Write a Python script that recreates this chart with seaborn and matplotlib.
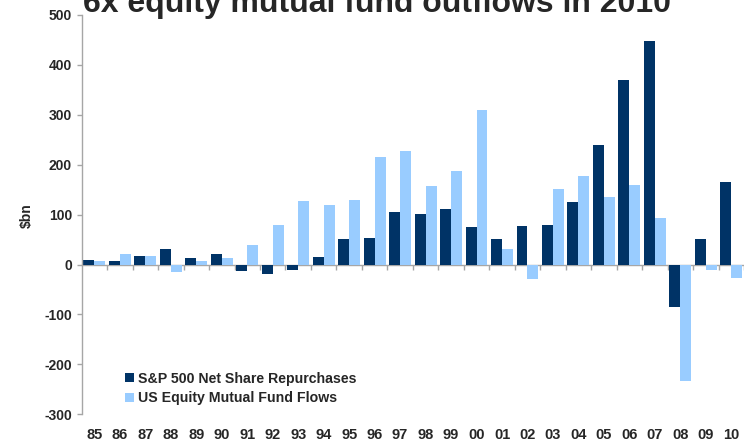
import matplotlib
matplotlib.use("Agg")
import matplotlib.pyplot as plt
from matplotlib.patches import Patch
import numpy as np
import pandas as pd
import seaborn as sns

# Years (two-digit labels), 1985-2010
years = ["85", "86", "87", "88", "89", "90", "91", "92", "93", "94", "95", "96", "97",
         "98", "99", "00", "01", "02", "03", "04", "05", "06", "07", "08", "09", "10"]

# $bn per year
buybacks = [9, 7, 17, 31, 13, 21, -13, -19, -11, 15, 51, 53, 105, 101, 111, 75,
            51, 77, 79, 125, 239, 369, 448, -85, 51, 165]
fund_flows = [7, 21, 17, -15, 7, 13, 39, 79, 127, 119, 129, 215, 227, 157, 187, 309,
              31, -29, 151, 177, 135, 159, 93, -234, -11, -27]

series_names = ["S&P 500 Net Share Repurchases", "US Equity Mutual Fund Flows"]
colors = ["#003366", "#99CCFF"]
title = "6x equity mutual fund outflows in 2010"

df = pd.DataFrame({
    "year": years * 2,
    "value": buybacks + fund_flows,
    "series": [series_names[0]] * len(years) + [series_names[1]] * len(years),
})

sns.set_style("white")
plt.rcParams["font.family"] = ["Liberation Sans", "DejaVu Sans"]
plt.rcParams["font.weight"] = "bold"
plt.rcParams["axes.unicode_minus"] = False

W, H, DPI = 744, 443, 100
fig = plt.figure(figsize=(W / DPI, H / DPI), dpi=DPI)
ax = fig.add_axes([81.7 / W, 1 - 414.3 / H, 1 - 81.7 / W, (414.3 - 15.0) / H])

sns.barplot(data=df, x="year", y="value", hue="series", order=years,
            hue_order=series_names, palette=colors, width=0.86, saturation=1,
            errorbar=None, linewidth=0, legend=False, ax=ax)

axis_grey = "#A6A6A6"
ax.set_xlim(-0.5, len(years) - 0.5)
ax.set_ylim(-300, 500)
ax.set_yticks(np.arange(-300, 501, 100))
ax.set_xlabel("")
ax.set_ylabel("")

for side in ["top", "right"]:
    ax.spines[side].set_visible(False)
ax.spines["left"].set_color(axis_grey)
ax.spines["left"].set_linewidth(1.0)
# horizontal axis runs through zero
ax.spines["bottom"].set_position(("data", 0))
ax.spines["bottom"].set_color(axis_grey)
ax.spines["bottom"].set_linewidth(1.0)
ax.spines["bottom"].set_zorder(0.5)

# category separators as minor ticks on the zero line
ax.set_xticks(np.arange(len(years)) + 0.5, minor=True)
ax.tick_params(axis="x", which="minor", length=3.8, width=1.0, color=axis_grey,
               direction="out", bottom=True)
# year labels sit beneath the plot area
zero_px = 264.3
ax.tick_params(axis="x", which="major", length=0, pad=(428.0 - zero_px) * 72 / DPI,
               labelsize=10.5)
ax.tick_params(axis="y", which="major", length=3.4, width=1.0, color=axis_grey,
               direction="out", left=True, pad=3.5, labelsize=10)
for lab in ax.get_xticklabels() + ax.get_yticklabels():
    lab.set_fontweight("bold")

fig.text(27 / W, 1 - 215.4 / H, "\\$bn", rotation=90, ha="center", va="center",
         fontsize=10, fontweight="bold")

fig.text(83 / W, 1 - 12 / H, title, ha="left", va="baseline", fontsize=23,
         fontweight="bold")

handles = [Patch(facecolor=c, edgecolor="none") for c in colors]
leg = ax.legend(handles, series_names, loc="center left",
                bbox_to_anchor=((125 - 81.7) / 662.3, (414.3 - 388.5) / 399.3),
                frameon=False, borderaxespad=0, borderpad=0, handlelength=0.65,
                handleheight=0.65, handletextpad=0.3, labelspacing=0.42,
                prop={"weight": "bold", "size": 10.2})

fig.savefig("out.png", dpi=DPI)
